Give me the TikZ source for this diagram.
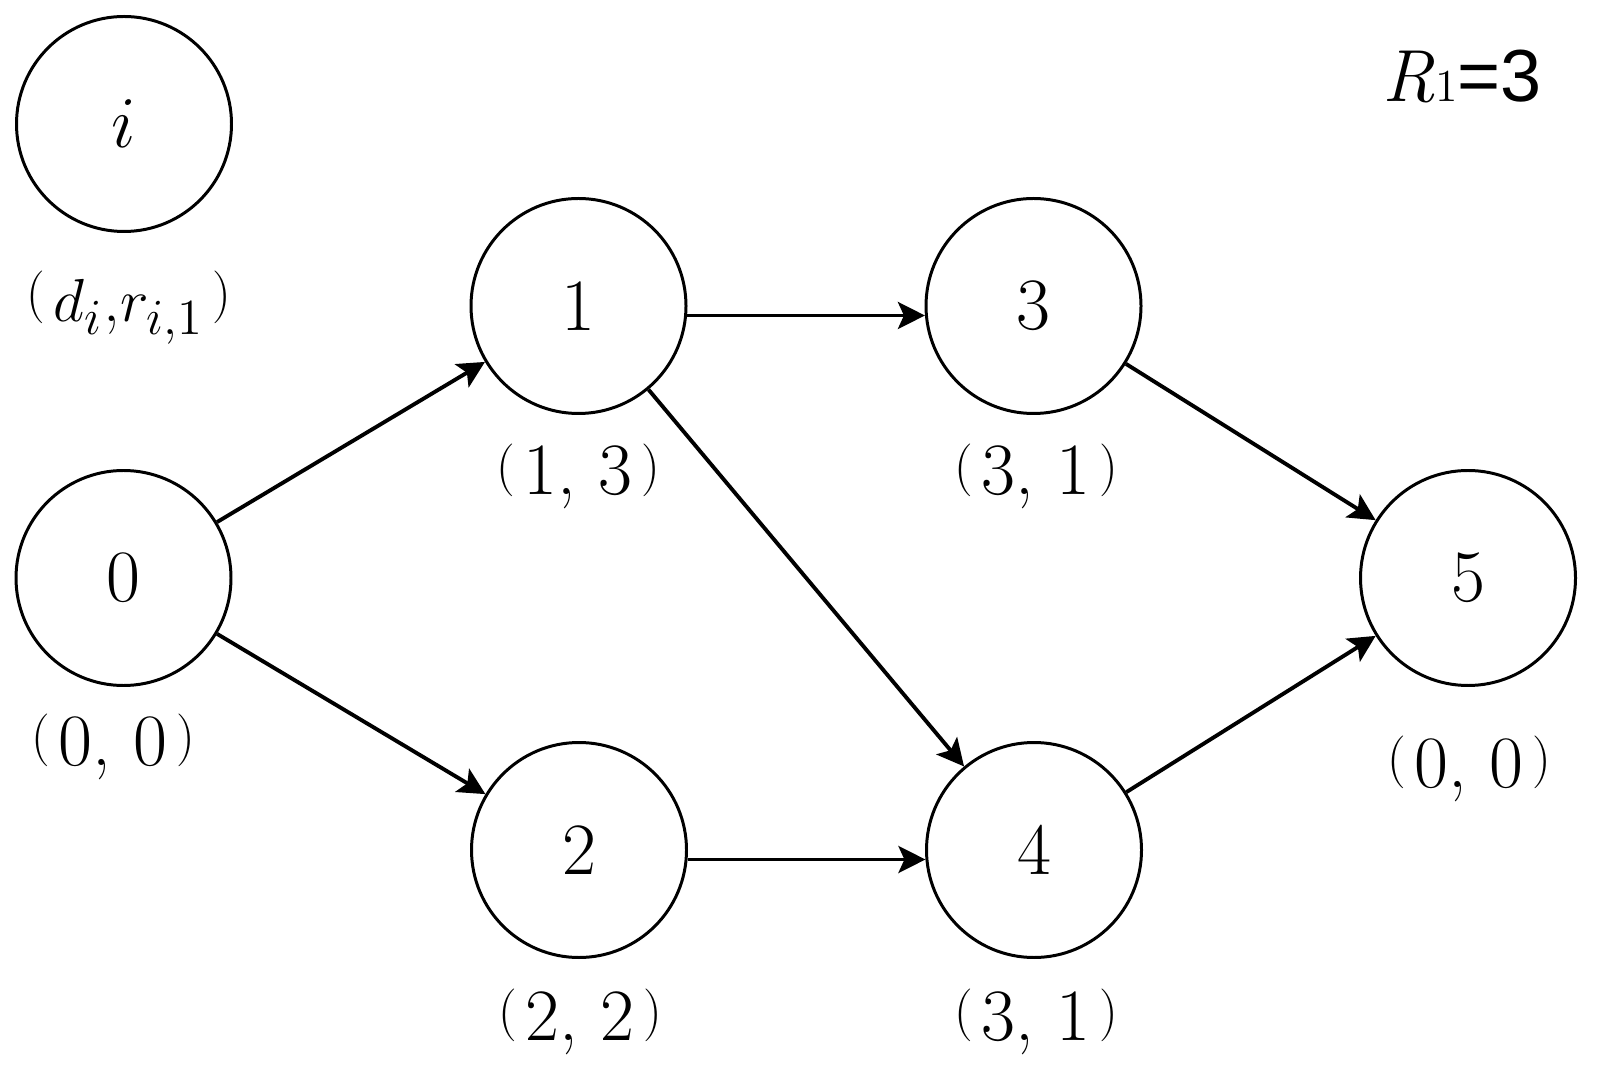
\documentclass[tikz,border=0pt]{standalone}
\usepackage{fontspec}
\usetikzlibrary{arrows.meta}
\newfontfamily\arial{Liberation Sans}
\newcommand{\pa}[1]{\raisebox{3.2pt}{\fontsize{15}{18}\selectfont #1}}
\newcommand{\drpair}[1]{\pa{(}\kern2.5pt#1\kern2.5pt\pa{)}}

\begin{document}
\begin{tikzpicture}[
  vtx/.style={circle,draw,line width=.85pt,minimum size=2.15cm,inner sep=0pt},
  lab/.style={anchor=base,inner sep=1pt},
  arc/.style={-{Stealth[length=2.7mm,width=2.7mm,inset=.6mm]},line width=1.1pt},
  font=\fontsize{21}{25}\selectfont]
\useasboundingbox (0,0) rectangle (15.97,10.65);
\node[vtx] (ni) at (1.24,9.41) {$i$};
\node[vtx] (n0) at (1.235,4.87) {0};
\node[vtx] (n1) at (5.785,7.59) {1};
\node[vtx] (n2) at (5.79,2.15) {2};
\node[vtx] (n3) at (10.335,7.59) {3};
\node[vtx] (n4) at (10.34,2.15) {4};
\node[vtx] (n5) at (14.68,4.87) {5};
\node[lab,font=\fontsize{19}{23}\selectfont] (li) at (1.29,7.43) {\drpair{$d_i$,$r_{i,1}$}};
\node[lab] (l0) at (1.13,3.00) {\drpair{0, 0}};
\node[lab] (l1) at (5.78,5.70) {\drpair{1, 3}};
\node[lab] (l2) at (5.80,0.25) {\drpair{2, 2}};
\node[lab] (l3) at (10.36,5.70) {\drpair{3, 1}};
\node[lab] (l4) at (10.36,0.25) {\drpair{3, 1}};
\node[lab] (l5) at (14.69,2.78) {\drpair{0, 0}};
\node[lab] (rone) at (14.62,9.63) {\textit{R}{\fontsize{13}{15}\selectfont 1}{\arial =3}};
\draw[arc] (n0) -- (n1);
\draw[arc] (n0) -- (n2);
\draw[arc] (n1.-5) -- (n3.185);
\draw[arc] (n1) -- (n4);
\draw[arc] (n2.-5) -- (n4.185);
\draw[arc] (n3) -- (n5);
\draw[arc] (n4) -- (n5);
\end{tikzpicture}
\end{document}
